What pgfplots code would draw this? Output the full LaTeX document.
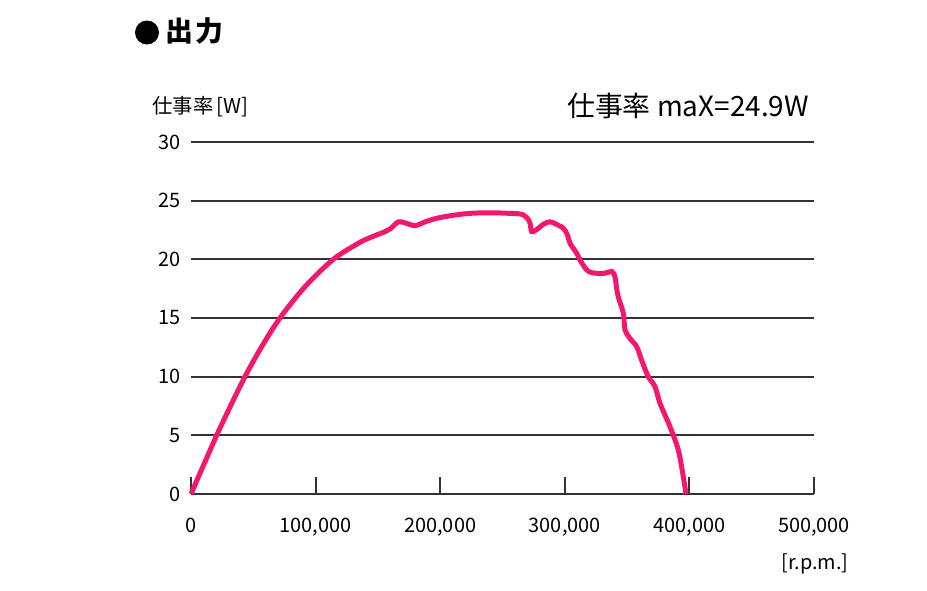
\documentclass[border=0pt]{standalone}
\usepackage{pgfplots}
\pgfplotsset{compat=1.18}
\usepackage{fontspec}
\setmainfont{Noto Sans CJK JP}
\definecolor{curve}{HTML}{F2186E}
\definecolor{gridc}{HTML}{333333}
\begin{document}
\begin{tikzpicture}
\path[use as bounding box] (0,0) rectangle (927bp,-591bp);
% title
\fill (147bp,-32.5bp) circle (12bp);
\node[anchor=west, inner sep=0pt, font=\fontsize{28}{30}\selectfont\bfseries] at (165bp,-31bp) {出\kern2bp 力};
\node[anchor=west, inner sep=0pt, font=\fontsize{20.5}{22}\selectfont] at (152bp,-107bp) {仕事率\,[W]};
\node[anchor=east, inner sep=0pt, font=\fontsize{28}{30}\selectfont] at (809bp,-105.5bp) {仕事率 maX=24.9W};
\node[inner sep=0pt, font=\fontsize{20}{22}\selectfont] at (815bp,-564bp) {[r.p.m.]};
\begin{axis}[
    at={(191bp,-494bp)}, anchor=south west,
    scale only axis,
    width=623bp, height=352bp,
    xmin=0, xmax=500000,
    ymin=0, ymax=30,
    axis x line*=bottom,
    axis y line*=left,
    y axis line style={draw=none},
    x axis line style={line width=2bp, gridc},
    scaled x ticks=false,
    xtick={0,100000,200000,300000,400000,500000},
    xticklabels={0,{100,000},{200,000},{300,000},{400,000},{500,000}},
    ytick={0,5,10,15,20,25,30},
    xtick align=inside,
    major tick length=17bp,
    xtick style={line width=2bp, gridc},
    ytick style={draw=none},
    ymajorgrids=true,
    grid style={line width=2bp, gridc},
    /pgf/number format/assume math mode=true,
    tick label style={font=\fontsize{20}{22}\selectfont},
    xticklabel style={yshift=-21bp},
    yticklabel style={xshift=-7bp},
    clip=false,
]
\addplot[curve, line width=5bp, smooth, tension=0.5] coordinates {
(0,0) (8600,2.1) (20600,5) (29900,7.1) (43300,10) (56700,12.55)
(71400,15) (91500,17.67) (114200,20) (134300,21.37) (143700,21.85)
(155700,22.36) (160000,22.6) (166400,23.2) (172000,23.1) (179800,22.87)
(188000,23.2) (197200,23.5) (210000,23.75) (223900,23.92) (240000,23.97)
(256000,23.92) (263000,23.88) (266700,23.78) (270000,23.5) (272100,23.07)
(273400,22.36) (277000,22.5) (283000,23.0) (288100,23.2) (293000,23.0)
(298800,22.65) (302000,22.1) (304200,21.37) (309600,20.5) (313000,19.8)
(317600,19.1) (322000,18.85) (330900,18.8) (337900,18.95) (340300,18.5)
(341500,17.6) (342900,16.8) (347000,15.4) (348300,13.98) (352000,13.3)
(357700,12.55) (362000,11.3) (367000,10.0) (372400,9.15) (376400,7.73)
(384400,5.74) (391100,3.75) (395100,1.47) (397300,0)
};
\end{axis}
\end{tikzpicture}
\end{document}
